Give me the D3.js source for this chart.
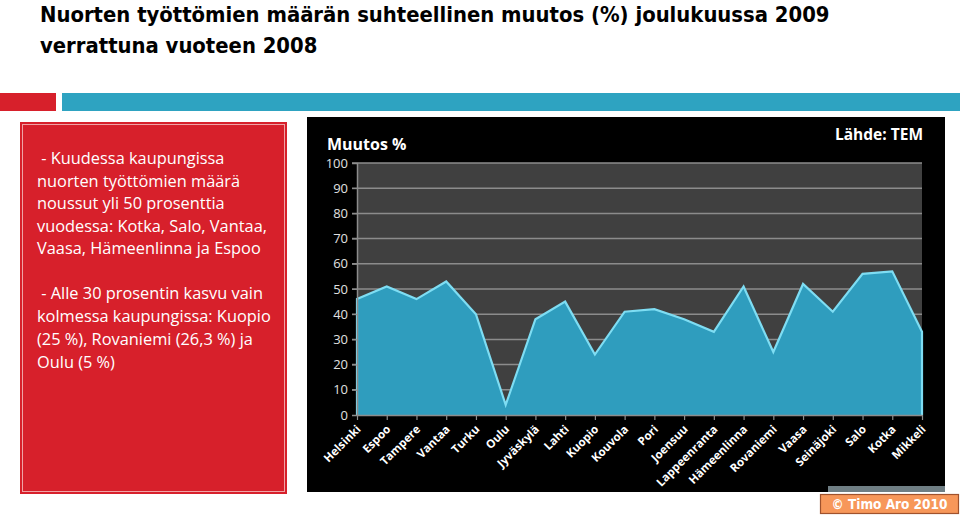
<!DOCTYPE html>
<html><head><meta charset="utf-8">
<script src="https://cdn.jsdelivr.net/npm/d3@7/dist/d3.min.js"></script>
<style>html,body{margin:0;padding:0;background:#fff;}svg{display:block;}</style>
</head><body>
<svg id="c" width="960" height="515"></svg>
<script>
const cities = ["Helsinki","Espoo","Tampere","Vantaa","Turku","Oulu","Jyväskylä","Lahti","Kuopio","Kouvola","Pori","Joensuu","Lappeenranta","Hämeenlinna","Rovaniemi","Vaasa","Seinäjoki","Salo","Kotka","Mikkeli"];
const values = [46, 51, 46, 53, 40, 4, 38, 45, 24, 41, 42, 38, 33, 51, 25, 52, 41, 56, 57, 33];
const yTicks = [0,10,20,30,40,50,60,70,80,90,100];
const titleLines = ["Nuorten työttömien määrän suhteellinen muutos (%) joulukuussa 2009","verrattuna vuoteen 2008"];
const para1 = [" - Kuudessa kaupungissa","nuorten työttömien määrä","noussut yli 50 prosenttia","vuodessa: Kotka, Salo, Vantaa,","Vaasa, Hämeenlinna ja Espoo"];
const para2 = [" - Alle 30 prosentin kasvu vain","kolmessa kaupungissa: Kuopio","(25 %), Rovaniemi (26,3 %) ja","Oulu (5 %)"];

const svg = d3.select("#c");
const bodyFont = "'Open Sans','Lato',sans-serif";
const condFont = "'DejaVu Sans Condensed','Liberation Sans Narrow',sans-serif";

function fit(sel, node, target, base){
  const w = node.getComputedTextLength();
  sel.attr("font-size", base*target/w);
}

// title
const tt = svg.append("g").attr("font-family",condFont).attr("font-weight","bold").attr("fill","#000").attr("font-size",21);
titleLines.forEach((t,i)=>{
  tt.append("text").attr("x",40).attr("y",22+i*31).text(t);
});
fit(tt, tt.select("text").node(), 790, 21);

// bars
svg.append("rect").attr("x",0).attr("y",93).attr("width",56).attr("height",18).attr("fill","#D7202B");
svg.append("rect").attr("x",62).attr("y",93).attr("width",898).attr("height",18).attr("fill","#2EA3C1");

// red box
svg.append("rect").attr("x",20).attr("y",122).attr("width",267).attr("height",372).attr("fill","#D7202B");
svg.append("rect").attr("x",22.5).attr("y",124.5).attr("width",262).attr("height",367).attr("fill","none").attr("stroke","#EFA3A6").attr("stroke-width",1);
const tb = svg.append("g").attr("font-family",bodyFont).attr("font-size",15).attr("fill","#fff");
para1.forEach((t,i)=>tb.append("text").attr("x",37).attr("y",164+i*22.5).style("white-space","pre").text(t));
para2.forEach((t,i)=>tb.append("text").attr("x",37).attr("y",299+i*23).style("white-space","pre").text(t));
fit(tb, tb.selectAll("text").nodes()[3], 230, 15);

// chart box
svg.append("rect").attr("x",307).attr("y",117).attr("width",638).attr("height",375).attr("fill","#000");

const x = d3.scalePoint().domain(cities).range([357,922]);
const y = d3.scaleLinear().domain([0,100]).range([415,163]);

svg.append("rect").attr("x",357).attr("y",y(100)).attr("width",922-357).attr("height",y(0)-y(100)).attr("fill","#404040");

// grid
svg.append("g").selectAll("line").data(yTicks.filter(d=>d>0)).join("line")
  .attr("x1",352).attr("x2",922).attr("y1",d=>y(d)).attr("y2",d=>y(d))
  .attr("stroke","#8c8c8c").attr("stroke-width",1.5);

// area
const area = d3.area().x((d,i)=>x(cities[i])).y0(y(0)).y1(d=>y(d));
svg.append("path").datum(values).attr("d",area).attr("fill","#2F9DBE");
const outline = [[x(cities[0]),y(0)]].concat(values.map((v,i)=>[x(cities[i]),y(v)])).concat([[x(cities[cities.length-1]),y(0)]]);
svg.append("path").attr("d",d3.line()(outline)).attr("fill","none").attr("stroke","#7EDDF3").attr("stroke-width",2.2).attr("stroke-linejoin","miter");

// y axis
const ya = svg.append("g").attr("transform","translate(357,0)").call(d3.axisLeft(y).tickValues(yTicks).tickSize(5).tickPadding(4));
ya.select(".domain").attr("stroke","#8c8c8c").attr("stroke-width",1.5);
ya.selectAll(".tick line").attr("stroke","#8c8c8c");
ya.selectAll("text").attr("fill","#e0e0e0").attr("font-family",bodyFont).attr("font-size",13);

// x axis
const xa = svg.append("g").attr("transform","translate(0,415)").call(d3.axisBottom(x).tickSize(5).tickSizeOuter(0));
xa.select(".domain").attr("stroke","#8c8c8c").attr("stroke-width",1.5);
xa.selectAll(".tick line").attr("stroke","#8c8c8c").attr("stroke-width",1.2);
xa.selectAll("text").attr("fill","#fff").attr("font-family",bodyFont).attr("font-weight","bold").attr("font-size",11.5)
  .attr("text-anchor","end").attr("dy",0).attr("y",0)
  .attr("transform","translate(4,15) rotate(-45)");

// chart labels
svg.append("text").attr("x",327).attr("y",150).attr("font-family",bodyFont).attr("font-weight","bold").attr("font-size",16).attr("fill","#fff").text("Muutos %");
svg.append("text").attr("x",923).attr("y",140).attr("text-anchor","end").attr("font-family",bodyFont).attr("font-weight","bold").attr("font-size",15.5).attr("fill","#fff").text("Lähde: TEM");

// bottom right
svg.append("rect").attr("x",828).attr("y",486).attr("width",117).attr("height",6).attr("fill","#6F7E84");
svg.append("rect").attr("x",820.5).attr("y",494.5).attr("width",138).attr("height",19).attr("fill","#F7975A").attr("stroke","#A0522D").attr("stroke-width",1.2);
svg.append("text").attr("x",889.5).attr("y",509).attr("text-anchor","middle").attr("font-family",condFont).attr("font-weight","bold").attr("font-size",13.5)
  .attr("fill","#fff").text("© Timo Aro 2010");
</script>
</body></html>
